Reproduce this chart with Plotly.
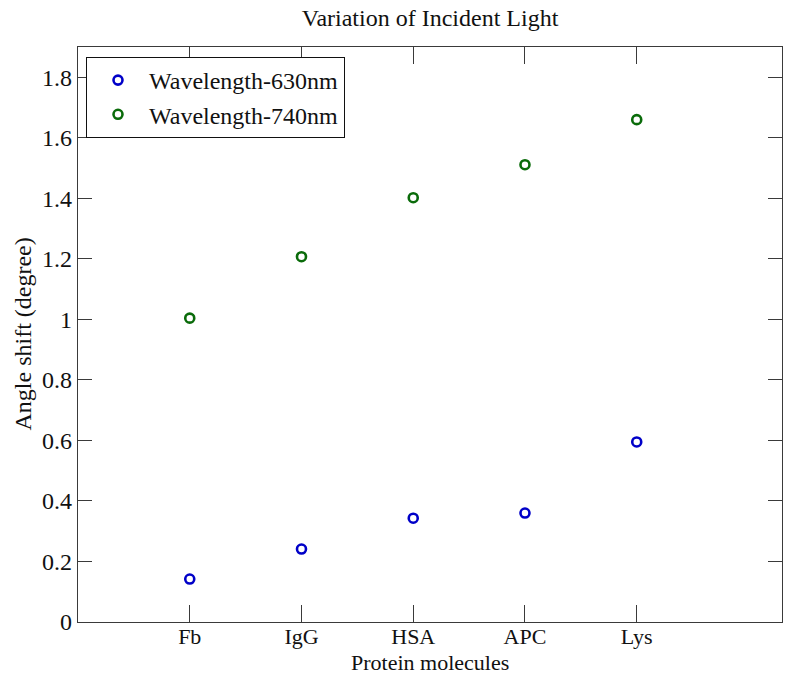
import plotly.graph_objects as go

categories = ["Fb", "IgG", "HSA", "APC", "Lys"]
positions = [1, 2, 3, 4, 5]
wl630 = [0.142, 0.241, 0.343, 0.360, 0.595]
wl740 = [1.004, 1.207, 1.402, 1.511, 1.660]
y_ticks = [0, 0.2, 0.4, 0.6, 0.8, 1.0, 1.2, 1.4, 1.6, 1.8]
y_ticklabels = ["0", "0.2", "0.4", "0.6", "0.8", "1", "1.2", "1.4", "1.6", "1.8"]

FONT = "Liberation Serif, Times New Roman, serif"
FS = 24

fig = go.Figure()
fig.add_trace(go.Scatter(
    x=positions, y=wl630, mode="markers", name="Wavelength-630nm",
    marker=dict(symbol="circle-open", size=9, color="#0000c8", line=dict(width=2.6, color="#0000c8")),
))
fig.add_trace(go.Scatter(
    x=positions, y=wl740, mode="markers", name="Wavelength-740nm",
    marker=dict(symbol="circle-open", size=9, color="#0a6b0a", line=dict(width=2.6, color="#0a6b0a")),
))

axis_common = dict(
    showline=True, linecolor="#3a3a3a", linewidth=1.2, mirror="ticks",
    ticks="inside", tickcolor="#3a3a3a", tickwidth=1, showgrid=False, zeroline=False,
    automargin=False,
)

fig.update_layout(
    width=795, height=676,
    margin=dict(l=78, r=13, t=47, b=54),
    paper_bgcolor="white", plot_bgcolor="white",
    title=dict(text="Variation of Incident Light", x=(78 + 782) / 2 / 795, xanchor="center",
               y=1 - 18 / 676, yanchor="middle",
               font=dict(family=FONT, size=FS, color="#111111")),
    xaxis=dict(**axis_common, range=[0, 6.3], tickvals=positions, ticktext=categories, ticklen=17,
               tickfont=dict(family=FONT, size=22, color="#111111"), ticklabelstandoff=-6),
    yaxis=dict(**axis_common, range=[0, 1.9], tickvals=y_ticks, ticktext=y_ticklabels, ticklen=14,
               tickfont=dict(family=FONT, size=FS, color="#111111")),
    legend=dict(x=8 / 704, y=1 - 10 / 575, xanchor="left", yanchor="top",
                bordercolor="#111111", borderwidth=1, bgcolor="white",
                font=dict(family=FONT, size=FS, color="#111111"), itemwidth=52,
                tracegroupgap=0),
    showlegend=True,
    annotations=[
        dict(text="Protein molecules", xref="paper", yref="paper", x=0.5, y=0, yshift=-40,
             xanchor="center", yanchor="middle", showarrow=False,
             font=dict(family=FONT, size=22, color="#111111")),
        dict(text="Angle shift (degree)", xref="paper", yref="paper", x=0, xshift=-56, y=0.5,
             xanchor="center", yanchor="middle", textangle=-90, showarrow=False,
             font=dict(family=FONT, size=FS, color="#111111")),
    ],
)

fig.write_html("out.html")
